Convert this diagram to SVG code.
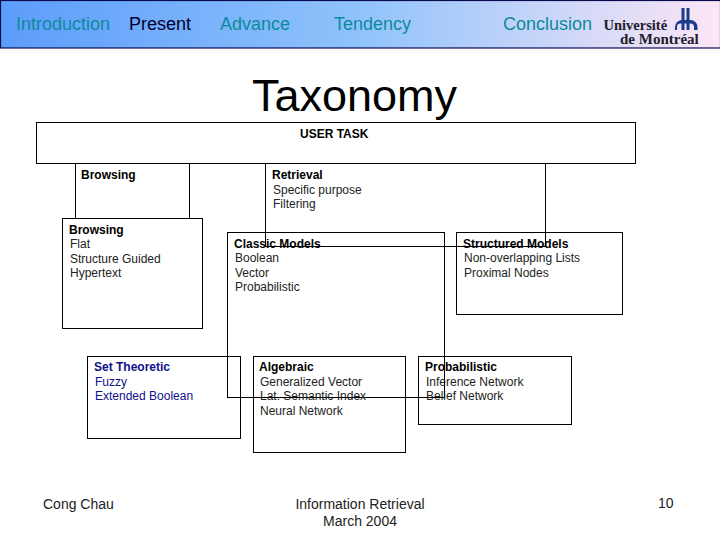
<svg xmlns="http://www.w3.org/2000/svg" width="720" height="540" viewBox="0 0 720 540">
<defs>
<linearGradient id="hdr" x1="0" y1="0" x2="1" y2="0">
<stop offset="0" stop-color="#5c9dfb"/><stop offset="0.5" stop-color="#90c3fb"/><stop offset="1" stop-color="#fde6f6"/>
</linearGradient>
</defs>
<style>
text{font-family:"Liberation Sans",Arial,sans-serif;fill:#000}
.nav{font-size:18px;fill:#0b8a9c}
.box{fill:none;stroke:#000;stroke-width:1}
.b{font-size:12px;font-weight:bold}
.t{font-size:12px;fill:#222}
.blue{fill:#10108a}
.foot{font-size:14px;fill:#222}
</style>
<rect x="0.500" y="0.500" width="720" height="47.500" fill="url(#hdr)" stroke="#0a0a50" stroke-width="1.200"/>
<g id="nav">
<text class="nav" x="16" y="29.500">Introduction</text>
<text class="nav" x="129" y="29.500" style="fill:#000030">Present</text>
<text class="nav" x="220" y="29.500">Advance</text>
<text class="nav" x="334" y="29.500">Tendency</text>
<text class="nav" x="503" y="29.500">Conclusion</text>
</g>
<g id="logo">
<text x="603.500" y="29.500" style="font-family:'Liberation Serif',serif;font-weight:bold;font-size:14.500px;fill:#20202a">Université</text>
<text x="620" y="43.500" style="font-family:'Liberation Serif',serif;font-weight:bold;font-size:15px;fill:#20202a">de Montréal</text>
<path d="M681.500 8h3v12h2V8h3v12h1a7 7 0 0 1 7 7v3h-3.500v-3a3.500 3.500 0 0 0-3.500-3.500h-1V30h-3v-6.500h-2V30h-3v-6.500h-1a3.500 3.500 0 0 0-3.500 3.500v3H675v-3a7 7 0 0 1 6.500-7z" fill="#1a3a8a"/>
</g>
<text x="252" y="111" style="font-size:45px;fill:#000">Taxonomy</text>
<g id="connectors">
<path class="box" d="M75.500 163.500V218M189.500 163.500V218M265.500 163.500V246.500H545.500V163.500"/>
</g>
<g id="user-task">
<rect class="box" x="36.500" y="122.500" width="599" height="41"/>
<text class="b" x="300" y="137.500">USER TASK</text>
</g>
<g id="browsing-label">
<text class="b" x="81" y="178.500">Browsing</text>
</g>
<g id="retrieval-label">
<text class="b" x="272" y="178.500">Retrieval</text>
<text class="t" x="273" y="193.500">Specific purpose</text>
<text class="t" x="273" y="207.500">Filtering</text>
</g>
<g id="browsing">
<rect class="box" x="62.500" y="218.500" width="140" height="110"/>
<text class="b" x="69" y="233.500">Browsing</text>
<text class="t" x="70" y="247.500">Flat</text>
<text class="t" x="70" y="262.500">Structure Guided</text>
<text class="t" x="70" y="276.500">Hypertext</text>
</g>
<g id="classic-models">
<rect class="box" x="227.500" y="232.500" width="217" height="165"/>
<text class="b" x="234" y="247.500">Classic Models</text>
<text class="t" x="235" y="261.500">Boolean</text>
<text class="t" x="235" y="276.500">Vector</text>
<text class="t" x="235" y="290.500">Probabilistic</text>
</g>
<g id="structured-models">
<rect class="box" x="456.500" y="232.500" width="166" height="82"/>
<text class="b" x="463" y="247.500">Structured Models</text>
<text class="t" x="464" y="261.500">Non-overlapping Lists</text>
<text class="t" x="464" y="276.500">Proximal Nodes</text>
</g>
<g id="set-theoretic">
<rect class="box" x="87.500" y="356.500" width="153" height="82"/>
<text class="b blue" x="94" y="370.500">Set Theoretic</text>
<text class="t blue" x="95" y="385.500">Fuzzy</text>
<text class="t blue" x="95" y="399.500">Extended Boolean</text>
</g>
<g id="algebraic">
<rect class="box" x="253.500" y="356.500" width="152" height="96"/>
<text class="b" x="259" y="370.500">Algebraic</text>
<text class="t" x="260" y="385.500">Generalized Vector</text>
<text class="t" x="260" y="399.500">Lat. Semantic Index</text>
<text class="t" x="260" y="414.500">Neural Network</text>
</g>
<g id="probabilistic">
<rect class="box" x="418.500" y="356.500" width="153" height="68"/>
<text class="b" x="425" y="370.500">Probabilistic</text>
<text class="t" x="426" y="385.500">Inference Network</text>
<text class="t" x="426" y="399.500">Belief Network</text>
</g>
<g id="footer">
<text class="foot" x="43" y="508.500">Cong Chau</text>
<text class="foot" x="360" y="508.500" text-anchor="middle">Information Retrieval</text>
<text class="foot" x="360" y="525.500" text-anchor="middle">March 2004</text>
<text class="foot" x="658" y="507.500">10</text>
</g>
</svg>
